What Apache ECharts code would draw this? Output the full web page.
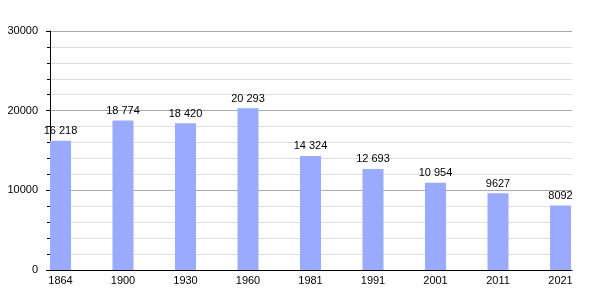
<!DOCTYPE html>
<html><head><meta charset="utf-8">
<script src="https://cdn.jsdelivr.net/npm/echarts@6/dist/echarts.min.js"></script>
<style>html,body{margin:0;padding:0;background:#fff}#c{width:600px;height:300px}</style>
</head><body><div id="c"></div>
<script>
const categories = ['1864','1900','1930','1960','1981','1991','2001','2011','2021'];
const population = [16218, 18774, 18420, 20293, 14324, 12693, 10954, 9627, 8092];
const yTicks = [0, 10000, 20000, 30000];

function fmt(v){
  if (v >= 10000) { const s = String(v); return s.slice(0, s.length-3) + ' ' + s.slice(-3); }
  return String(v);
}
const idx = categories.map((c,i)=>i);
const chart = echarts.init(document.getElementById('c'), null, {renderer:'canvas'});
chart.setOption({
  animation:false,
  backgroundColor:'#fff',
  textStyle:{fontFamily:'Liberation Sans, Arial, sans-serif'},
  grid:{left:50, right:28, top:31, bottom:30, containLabel:false},
  xAxis:{
    type:'value', min:-0.168, max:8.184,
    axisLine:{show:true, onZero:false, lineStyle:{color:'#000', width:1}},
    axisTick:{show:false},
    splitLine:{show:false},
    axisLabel:{customValues:idx, formatter:v=>categories[Math.round(v)], color:'#000', fontSize:11, margin:5, showMinLabel:true, showMaxLabel:true}
  },
  yAxis:{
    type:'value', min:yTicks[0], max:yTicks[yTicks.length-1], interval:10000,
    axisLine:{show:true, onZero:false, lineStyle:{color:'#000', width:1}},
    axisTick:{show:true, length:4, lineStyle:{color:'#000'}},
    minorTick:{show:true, splitNumber:5, length:3, lineStyle:{color:'#000'}},
    splitLine:{show:true, lineStyle:{color:'#aaaaaa', width:1}},
    minorSplitLine:{show:true, lineStyle:{color:'#dddddd', width:1}},
    axisLabel:{color:'#000', fontSize:11, margin:12, formatter:v=>String(v)}
  },
  series:[{
    type:'bar',
    data:population.map((v,i)=>[i,v]),
    barWidth:21,
    itemStyle:{color:'#99aaff'},
    label:{show:true, position:'top', distance:4, color:'#000', fontSize:11, formatter:p=>fmt(p.value[1])}
  }]
});
</script></body></html>
